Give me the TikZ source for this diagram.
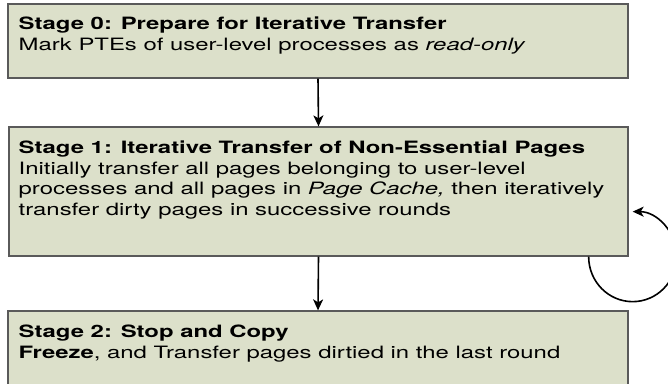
\documentclass[tikz,border=0pt]{standalone}
\usepackage{fontspec}
\setmainfont[FakeStretch=1.405]{TeX Gyre Heros}
\usetikzlibrary{arrows.meta,calc}
\definecolor{boxfill}{RGB}{220,224,202}
\definecolor{boxline}{RGB}{90,90,90}
\tikzset{
  stagebox/.style={draw=boxline, line width=1.3pt, fill=boxfill, rectangle, inner sep=0pt},
  stagetext/.style={anchor=north west, inner sep=0pt, align=left,
    font=\fontsize{17pt}{20.6pt}\selectfont},
  flow/.style={line width=1.6pt, -{Stealth[length=11pt,width=10pt,inset=3pt]}},
}
\newcommand{\firststrut}{\rule{0pt}{14pt}}
\begin{document}
\begin{tikzpicture}[x=1pt,y=1pt]
\useasboundingbox (0,0) rectangle (668,-383);
\clip (0,0) rectangle (668,-383);
% boxes
\node[stagebox, minimum width=620pt, minimum height=74pt] (box0) at (318,-41) {};
\node[stagebox, minimum width=619pt, minimum height=129pt] (box1) at (318.5,-191.5) {};
\node[stagebox, minimum width=620pt, minimum height=90pt] (box2) at (318,-356) {};
% texts
\node[stagetext] (t0) at (18.5,-15.3) {\firststrut\textbf{Stage 0: Prepare for Iterative Transfer}\\
  Mark PTEs of user-level processes as \textit{read-only}};
\node[stagetext] (t1) at (18.5,-139.3) {\firststrut\textbf{Stage 1: Iterative Transfer of Non-Essential Pages}\\
  Initially transfer all pages belonging to user-level\\
  processes and all pages in \textit{Page Cache,} then iteratively\\
  transfer dirty pages in successive rounds};
\node[stagetext] (t2) at (18.5,-323.7) {\firststrut\textbf{Stage 2: Stop and Copy}\\
  \textbf{Freeze}, and Transfer pages dirtied in the last round};
% connectors
\draw[flow] (box0.south) -- (box1.north);
\draw[flow] (box1.south) -- (box2.north);
\coordinate (loopstart) at ($(box1.south east)+(-40,0)$);
\draw[flow] (loopstart) arc[start angle=180, end angle=450, x radius=44, y radius=45];
\end{tikzpicture}
\end{document}
